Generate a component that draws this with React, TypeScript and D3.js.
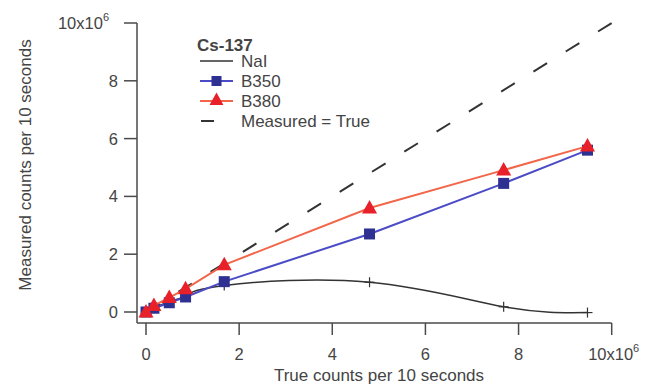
import React from "react";
import * as d3 from "d3";

const trueCounts = [0, 0.17, 0.5, 0.85, 1.68, 4.8, 7.68, 9.48];
const naiMeasured = [0, 0.14, 0.36, 0.56, 0.92, 1.03, 0.18, -0.02];
const b350Measured = [0, 0.13, 0.32, 0.52, 1.05, 2.7, 4.45, 5.6];
const b380Measured = [0, 0.22, 0.5, 0.8, 1.63, 3.6, 4.91, 5.74];
const identityLine = [0, 10];
const xTicks = [0, 2, 4, 6, 8, 10];
const yTicks = [0, 2, 4, 6, 8, 10];
const legendTitle = "Cs-137";
const legendLabels = ["NaI", "B350", "B380", "Measured = True"];
const xTitle = "True counts per 10 seconds";
const yTitle = "Measured counts per 10 seconds";

const W = 650;
const H = 390;
const FONT = "'Liberation Sans', Arial, sans-serif";
const TXT = "#444";
const AX = "#4a4a4a";
const BLUE_LINE = "#4b4bc6";
const BLUE_MK = "#2e3192";
const RED_LINE = "#f2664a";
const RED_MK = "#e8202a";
const BLACK = "#333";

export default function App() {
  const x = d3.scaleLinear().domain([0, 10]).range([146, 611.7]);
  const y = d3.scaleLinear().domain([0, 10]).range([312, 23]);
  const axX = 137;
  const axY = 323;

  const lin = d3.line<number>().x((_, i) => x(trueCounts[i])).y((d) => y(d));
  const smooth = d3
    .line<number>()
    .x((_, i) => x(trueCounts[i]))
    .y((d) => y(d))
    .curve(d3.curveNatural);

  const tri = (cx: number, cy: number, s: number) =>
    `M${cx},${cy - s * 0.62} L${cx + s * 0.58},${cy + s * 0.42} L${cx - s * 0.58},${cy + s * 0.42} Z`;

  const tickLabel = (v: number) => (v === 10 ? "10x10" : String(v));

  const legX0 = 200;
  const legX1 = 233;
  const legTextX = 241;
  const legRows = [61, 81, 101, 121];

  return (
    <svg
      width={W}
      height={H}
      style={{ position: "absolute", left: 0, top: 0, background: "#fff" }}
      fontFamily={FONT}
    >
      <rect width={W} height={H} fill="#fff" />
      {/* identity dashed line */}
      <line
        x1={x(identityLine[0])}
        y1={y(identityLine[0])}
        x2={x(identityLine[1])}
        y2={y(identityLine[1])}
        stroke={BLACK}
        strokeWidth={2}
        strokeDasharray="16,22"
      />
      {/* NaI */}
      <path d={smooth(naiMeasured) || ""} fill="none" stroke={BLACK} strokeWidth={1.5} />
      {naiMeasured.map((v, i) => (
        <g key={"n" + i} stroke={BLACK} strokeWidth={1.2}>
          <line x1={x(trueCounts[i]) - 5} x2={x(trueCounts[i]) + 5} y1={y(v)} y2={y(v)} />
          <line x1={x(trueCounts[i])} x2={x(trueCounts[i])} y1={y(v) - 5} y2={y(v) + 5} />
        </g>
      ))}
      {/* B350 */}
      <path d={lin(b350Measured) || ""} fill="none" stroke={BLUE_LINE} strokeWidth={2} />
      {b350Measured.map((v, i) => (
        <rect
          key={"b" + i}
          x={x(trueCounts[i]) - 5.5}
          y={y(v) - 5.5}
          width={11}
          height={11}
          fill={BLUE_MK}
        />
      ))}
      {/* B380 */}
      <path d={lin(b380Measured) || ""} fill="none" stroke={RED_LINE} strokeWidth={2} />
      {b380Measured.map((v, i) => (
        <path key={"r" + i} d={tri(x(trueCounts[i]), y(v), 13)} fill={RED_MK} />
      ))}

      {/* axes */}
      <line x1={axX} x2={axX} y1={y(10)} y2={axY} stroke={AX} strokeWidth={1.5} />
      <line x1={axX} x2={x(10)} y1={axY} y2={axY} stroke={AX} strokeWidth={1.5} />
      {yTicks.map((t) => (
        <g key={"yt" + t}>
          <line x1={axX - 13} x2={axX} y1={y(t)} y2={y(t)} stroke={AX} strokeWidth={1.5} />
          <text
            x={t === 10 ? 109 : 118}
            y={y(t) + 6}
            textAnchor="end"
            fontSize={16.5}
            fill={TXT}
          >
            {tickLabel(t)}
            {t === 10 && (
              <tspan fontSize={11} dy={-8}>
                6
              </tspan>
            )}
          </text>
        </g>
      ))}
      {xTicks.map((t) => (
        <g key={"xt" + t}>
          <line x1={x(t)} x2={x(t)} y1={axY} y2={axY + 12} stroke={AX} strokeWidth={1.5} />
          <text x={x(t) + (t === 10 ? 2 : 0)} y={360} textAnchor="middle" fontSize={16.5} fill={TXT}>
            {tickLabel(t)}
            {t === 10 && (
              <tspan fontSize={11} dy={-8}>
                6
              </tspan>
            )}
          </text>
        </g>
      ))}

      {/* axis titles */}
      <text x={379} y={381} textAnchor="middle" fontSize={17} fill={TXT}>
        {xTitle}
      </text>
      <text
        transform={`translate(31,165) rotate(-90)`}
        textAnchor="middle"
        fontSize={17}
        fill={TXT}
      >
        {yTitle}
      </text>

      {/* legend */}
      <text x={197} y={51} fontSize={17} fontWeight="bold" fill={TXT}>
        {legendTitle}
      </text>
      <line x1={legX0} x2={legX1} y1={legRows[0]} y2={legRows[0]} stroke={BLACK} strokeWidth={1.5} />
      <line x1={legX0} x2={legX1} y1={legRows[1]} y2={legRows[1]} stroke={BLUE_LINE} strokeWidth={2} />
      <rect x={(legX0 + legX1) / 2 - 5} y={legRows[1] - 5} width={10} height={10} fill={BLUE_MK} />
      <line x1={legX0} x2={legX1} y1={legRows[2]} y2={legRows[2]} stroke={RED_LINE} strokeWidth={2} />
      <path d={tri((legX0 + legX1) / 2, legRows[2] - 1, 12)} fill={RED_MK} />
      <line x1={legX0 + 1} x2={legX0 + 14} y1={legRows[3]} y2={legRows[3]} stroke={BLACK} strokeWidth={2} />
      {legendLabels.map((l, i) => (
        <text key={l} x={legTextX} y={legRows[i] + 6} fontSize={17} fill={TXT}>
          {l}
        </text>
      ))}
    </svg>
  );
}
